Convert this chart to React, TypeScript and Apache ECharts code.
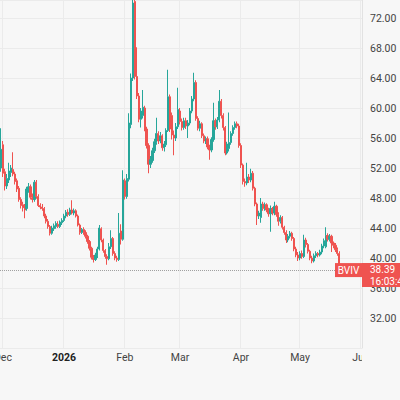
import React, { useEffect, useRef } from "react";
import * as echarts from "echarts";

// ---- data (daily candles, [open, close, low, high]) ----
const START_DATE = "2025-11-30";
const END_DATE = "2026-06-01";
const SYMBOL = "BVIV";
const LAST_PRICE = 38.39;
const COUNTDOWN = "16:03:45";
const MONTH_LABELS = ["2026", "Feb", "Mar", "Apr", "May", "Jun", "Jul", "Aug", "Sep", "Oct", "Nov", "Dec"];

const DEC_OHLC: number[][] = [
  [52.0, 54.5, 51.5, 57.3], [55.1, 51.3, 50.8, 55.6], [51.5, 49.6, 49.0, 51.9], [49.6, 50.6, 49.2, 51.2],
  [50.4, 51.6, 50.0, 52.7], [51.4, 52.0, 50.8, 52.4], [51.8, 51.2, 50.9, 54.1], [51.2, 50.2, 49.8, 51.5],
  [50.3, 49.2, 48.8, 50.6], [49.3, 47.8, 47.5, 49.6], [47.8, 47.0, 46.6, 48.1], [47.1, 46.7, 46.2, 47.5],
  [46.8, 46.4, 45.3, 47.2], [46.6, 49.2, 46.3, 49.5], [49.0, 49.5, 48.7, 50.0], [49.5, 48.1, 47.8, 49.8],
  [48.0, 47.8, 47.4, 48.6], [47.8, 50.1, 47.5, 50.4], [50.1, 48.2, 47.9, 50.4], [48.2, 47.0, 46.8, 48.5],
  [47.0, 46.8, 46.5, 47.3], [46.8, 46.6, 46.3, 47.2], [46.6, 45.6, 45.3, 46.8], [45.6, 44.9, 44.6, 45.9],
  [44.9, 44.2, 43.9, 45.2], [44.2, 43.3, 43.0, 44.4], [43.3, 44.0, 43.1, 44.3], [43.9, 44.3, 43.6, 44.6],
  [44.2, 44.6, 43.9, 44.9], [44.5, 44.2, 44.0, 44.9], [44.2, 44.8, 44.0, 45.0], [44.7, 45.0, 44.4, 45.3],
];
const JAN_OHLC: number[][] = [
  [45.0, 45.6, 44.8, 45.9], [45.6, 46.1, 45.3, 46.4], [46.1, 45.8, 45.5, 46.5], [45.8, 46.4, 45.6, 46.7],
  [46.4, 46.0, 45.8, 47.7], [46.0, 46.3, 45.7, 46.6], [46.3, 45.6, 45.4, 46.5], [45.6, 44.4, 44.2, 45.8],
  [44.4, 43.4, 43.1, 44.6], [43.4, 43.8, 43.2, 44.0], [43.8, 43.4, 43.1, 44.1], [43.4, 42.9, 42.6, 43.7],
  [42.9, 42.2, 41.9, 43.1], [42.2, 41.3, 41.0, 42.4], [41.3, 40.1, 39.8, 41.5], [40.1, 39.8, 39.4, 40.4],
  [39.8, 40.4, 39.6, 40.7], [40.3, 41.2, 40.0, 41.5], [41.2, 44.0, 41.0, 44.4], [43.9, 42.4, 42.1, 44.1],
  [42.4, 41.0, 40.7, 42.6], [41.0, 40.2, 39.9, 41.2], [40.2, 39.9, 39.1, 40.5], [39.9, 41.5, 39.7, 42.0],
  [41.5, 42.6, 41.2, 43.7], [42.6, 40.6, 40.3, 42.8], [40.6, 40.0, 39.7, 40.9], [40.0, 39.8, 39.5, 40.3],
  [39.8, 43.3, 39.6, 46.0], [43.6, 42.5, 41.8, 44.5], [42.5, 50.4, 42.3, 51.7],
];
const FEB_OHLC: number[][] = [
  [50.3, 48.2, 47.8, 50.6], [48.2, 50.6, 47.9, 51.2], [50.5, 58.0, 50.2, 59.3], [57.8, 64.0, 57.3, 64.6],
  [64.0, 74.0, 63.6, 77.0], [74.2, 64.2, 63.8, 75.0], [64.2, 61.6, 61.2, 68.1], [61.6, 58.5, 58.1, 62.0],
  [58.5, 59.6, 57.4, 60.0], [59.0, 60.1, 58.6, 62.4], [60.0, 57.2, 56.9, 60.3], [57.2, 55.0, 54.6, 57.5],
  [55.0, 52.5, 51.3, 55.3], [52.5, 53.1, 52.0, 53.6], [53.0, 54.3, 52.7, 54.7], [54.3, 55.5, 54.0, 55.9],
  [55.4, 56.6, 55.1, 58.7], [56.6, 55.6, 55.2, 56.9], [55.6, 56.3, 55.3, 56.8], [56.3, 54.7, 54.3, 56.5],
  [54.7, 55.2, 54.2, 55.6], [55.1, 57.0, 54.8, 57.3], [57.0, 61.5, 56.8, 65.1], [61.5, 57.2, 56.8, 61.8],
  [59.0, 56.4, 55.8, 59.4], [56.4, 56.0, 53.7, 57.0], [56.0, 57.5, 55.6, 58.0], [57.5, 59.8, 57.2, 62.7],
];
const MAR_OHLC: number[][] = [
  [59.6, 58.2, 57.8, 60.0], [58.2, 57.4, 57.0, 58.6], [57.4, 58.3, 57.1, 58.7], [58.3, 57.6, 57.2, 58.7],
  [57.6, 58.0, 56.0, 58.4], [58.0, 59.6, 57.7, 60.0], [59.6, 61.2, 59.3, 61.6], [61.2, 63.4, 60.9, 64.7],
  [63.4, 58.6, 58.3, 63.7], [58.6, 57.3, 57.0, 58.9], [57.3, 57.9, 56.9, 58.3], [57.9, 56.3, 56.0, 58.1],
  [56.3, 55.6, 55.3, 56.6], [55.6, 55.9, 55.2, 56.2], [55.9, 54.8, 54.5, 56.2], [54.8, 54.4, 53.1, 55.1],
  [54.4, 55.8, 54.1, 56.1], [55.8, 58.3, 55.5, 60.7], [58.3, 57.5, 57.1, 58.6], [57.5, 58.4, 57.2, 58.8],
  [58.4, 60.9, 58.1, 62.4], [60.9, 59.0, 58.6, 61.2], [59.0, 57.4, 57.0, 59.3], [57.4, 54.0, 53.7, 57.6],
  [54.0, 55.2, 53.8, 55.5], [54.6, 55.4, 54.2, 59.4], [55.4, 56.6, 55.1, 56.9], [56.6, 57.4, 56.3, 57.7],
  [57.4, 57.9, 57.1, 58.2], [57.9, 57.6, 57.3, 58.2], [57.6, 55.0, 54.7, 57.9],
];
const APR_OHLC: number[][] = [
  [55.0, 52.4, 52.0, 55.3], [52.4, 50.2, 49.8, 52.6], [50.2, 50.0, 49.5, 50.6], [50.0, 50.8, 49.7, 52.7],
  [50.8, 50.4, 50.0, 51.2], [50.4, 51.3, 50.1, 51.9], [51.3, 49.3, 49.0, 51.6], [49.3, 47.2, 46.9, 49.5],
  [47.2, 45.6, 44.4, 47.4], [45.6, 46.0, 45.2, 46.3], [45.4, 47.2, 44.7, 48.0], [47.2, 46.6, 46.3, 47.5],
  [46.6, 47.1, 46.3, 47.4], [47.1, 46.4, 46.1, 47.3], [46.4, 45.9, 45.5, 46.7], [45.9, 46.6, 43.5, 47.0],
  [46.6, 46.0, 45.7, 46.8], [46.0, 46.9, 45.7, 47.5], [46.9, 45.8, 45.5, 47.1], [45.8, 44.9, 44.3, 46.1],
  [44.9, 45.4, 44.6, 45.7], [45.4, 44.1, 43.8, 45.6], [44.1, 43.4, 43.1, 44.3], [43.4, 42.4, 42.0, 43.7],
  [42.4, 42.9, 42.1, 43.2], [42.9, 43.3, 42.6, 43.6], [43.3, 42.6, 42.3, 43.5], [42.6, 41.2, 40.9, 42.8],
  [41.2, 40.4, 40.1, 41.5], [40.4, 40.0, 39.6, 40.8],
];
const MAY_OHLC: number[][] = [
  [40.0, 40.6, 39.7, 40.9], [40.6, 40.2, 39.9, 41.0], [40.2, 42.4, 40.0, 43.1], [42.4, 41.8, 41.4, 42.7],
  [41.8, 40.9, 40.6, 42.0], [40.9, 40.0, 39.7, 41.1], [40.0, 39.6, 39.3, 40.3], [39.6, 40.3, 39.4, 40.6],
  [40.3, 40.6, 40.0, 40.9], [40.6, 40.4, 40.1, 40.8], [40.4, 40.8, 40.2, 41.1], [40.8, 41.6, 40.5, 41.9],
  [41.6, 42.3, 41.3, 42.6], [41.5, 43.0, 41.3, 44.1], [43.0, 42.5, 42.2, 43.3], [42.5, 42.9, 42.2, 43.2],
  [42.9, 42.0, 40.8, 43.1], [42.0, 41.7, 41.3, 42.2], [41.7, 41.1, 40.8, 42.0], [41.1, 40.6, 40.3, 41.4],
  [40.6, LAST_PRICE, 38.2, 40.9],
];

// ---- styling ----
const BG = "#f7f7f7";
const UP = "#26a69a";
const DOWN = "#ef5350";
const GRID = "#ebebeb";
const TEXT = "#434343";
const FONT = "Roboto, 'Noto Sans', sans-serif";

function buildCategories(): string[] {
  const out: string[] = [];
  const d = new Date(START_DATE + "T00:00:00Z");
  const end = new Date(END_DATE + "T00:00:00Z");
  while (d.getTime() <= end.getTime()) {
    out.push(d.toISOString().slice(0, 10));
    d.setUTCDate(d.getUTCDate() + 1);
  }
  return out;
}

const isMonthStart = (_i: number, v: string) => v.endsWith("-01");

export default function App() {
  const ref = useRef<HTMLDivElement>(null);
  useEffect(() => {
    document.body.style.margin = "0";
    if (!ref.current) return;
    const chart = echarts.init(ref.current, undefined, { renderer: "svg" });
    const categories = buildCategories();
    const data = [...DEC_OHLC, ...JAN_OHLC, ...FEB_OHLC, ...MAR_OHLC, ...APR_OHLC, ...MAY_OHLC];

    chart.setOption({
      animation: false,
      backgroundColor: BG,
      grid: { left: 0, right: 38, top: 0, bottom: 52, containLabel: false, outerBoundsMode: "none" },
      xAxis: {
        type: "category",
        data: categories,
        boundaryGap: true,
        axisLine: { show: false },
        axisTick: { show: false },
        axisLabel: {
          interval: isMonthStart,
          margin: 4,
          color: TEXT,
          fontSize: 10.5,
          fontFamily: FONT,
          alignMinLabel: "center",
          alignMaxLabel: "center",
          formatter: (v: string) => {
            const m = parseInt(v.slice(5, 7), 10);
            if (m === 12) return "Dec";
            const name = MONTH_LABELS[m - 1];
            return m === 1 ? "{b|" + name + "}" : name;
          },
          rich: { b: { fontWeight: "bold", color: "#222", fontSize: 10.5, fontFamily: FONT } },
        },
        splitLine: { show: true, interval: isMonthStart, lineStyle: { color: GRID, width: 1 } },
      },
      yAxis: {
        type: "value",
        position: "right",
        min: 28,
        max: 74.4,
        interval: 4,
        axisLine: { show: true, lineStyle: { color: "#e2e2e2" } },
        axisTick: { show: false },
        splitLine: { show: true, lineStyle: { color: GRID, width: 1 } },
        axisLabel: {
          margin: 8,
          color: TEXT,
          fontSize: 10.5,
          fontFamily: FONT,
          formatter: (v: number) => (v >= 30 && v <= 73 && Math.abs(v % 4) < 1e-6 ? v.toFixed(2) : ""),
        },
      },
      series: [
        {
          type: "candlestick",
          data,
          barWidth: "85%",
          itemStyle: { color: UP, color0: DOWN, borderColor: UP, borderColor0: DOWN, borderWidth: 1 },
          markLine: {
            silent: true,
            symbol: "none",
            label: { show: false },
            lineStyle: { type: "dotted", color: "#a0a0a0", width: 1 },
            data: [{ yAxis: LAST_PRICE }],
          },
        },
      ],
    });

    const y = chart.convertToPixel({ yAxisIndex: 0 }, LAST_PRICE) as number;
    const w = chart.getWidth();
    const axisX = w - 38;
    chart.setOption({
      graphic: [
        { type: "rect", z: 100, shape: { x: axisX, y: 350, width: 38, height: 16 }, style: { fill: BG } },
        { type: "rect", z: 100, shape: { x: axisX - 27, y: y - 7, width: 27, height: 14 }, style: { fill: DOWN } },
        {
          type: "text", z: 101, x: axisX - 13.5, y,
          style: { text: SYMBOL, fill: "#fff", font: "10px " + FONT, align: "center", verticalAlign: "middle" },
        },
        { type: "rect", z: 100, shape: { x: axisX, y: y - 7, width: 38, height: 24 }, style: { fill: DOWN } },
        {
          type: "text", z: 101, x: axisX + 8, y: y - 5.5,
          style: { text: LAST_PRICE.toFixed(2), fill: "#fff", font: "10px " + FONT, align: "left", verticalAlign: "top" },
        },
        {
          type: "text", z: 101, x: axisX + 8, y: y + 6,
          style: { text: COUNTDOWN, fill: "#fff", font: "10px " + FONT, align: "left", verticalAlign: "top" },
        },
      ],
    });

    return () => chart.dispose();
  }, []);

  return <div ref={ref} style={{ width: 400, height: 400 }} />;
}
